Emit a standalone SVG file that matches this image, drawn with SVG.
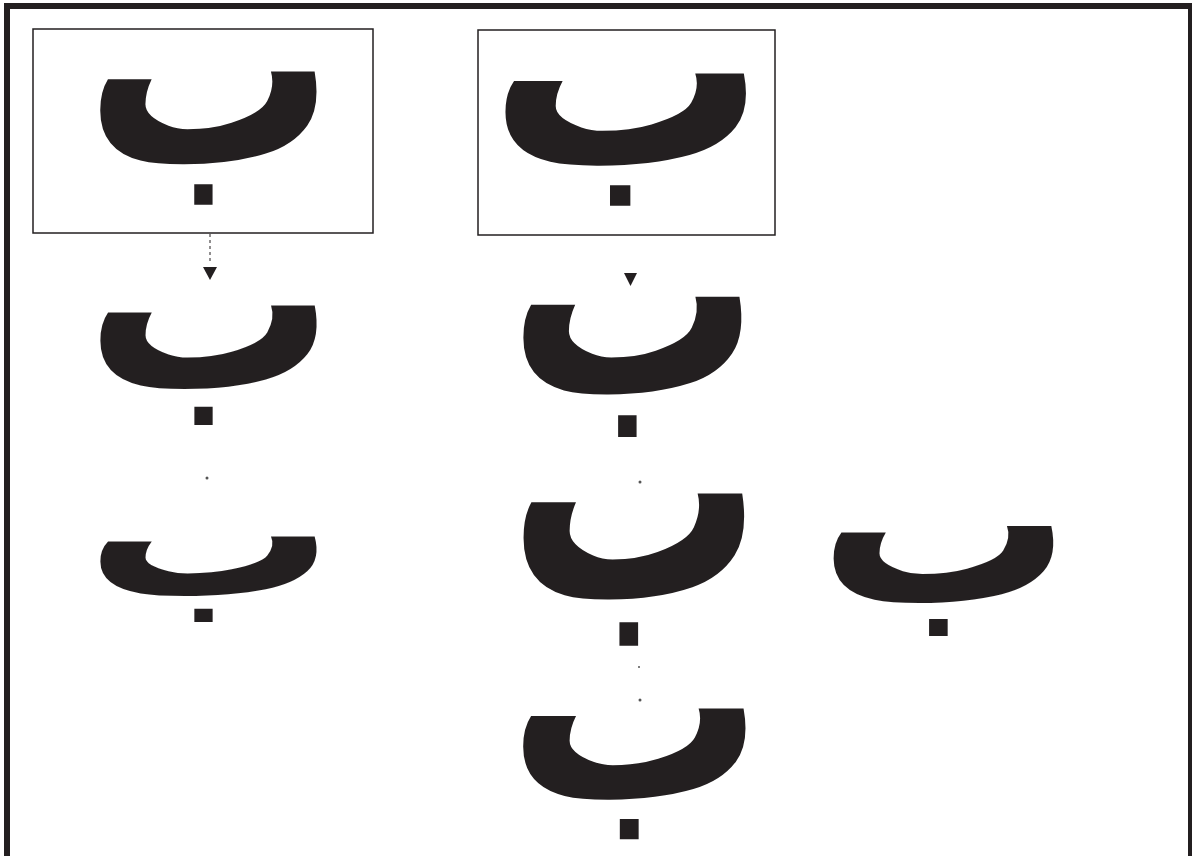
<svg xmlns="http://www.w3.org/2000/svg" width="1192" height="856" viewBox="0 0 1192 856">
<style>
.g{font-family:"DejaVu Sans",sans-serif;font-weight:bold;font-size:100px;fill:#231f20;text-anchor:middle}
.box{fill:none;stroke:#231f20;stroke-width:1.5}
.conn{stroke:#231f20;stroke-width:1;stroke-dasharray:3 3;fill:none}
.head{fill:#231f20}
.speck{fill:#555}
.frame{fill:#231f20}
</style>
<rect x="0" y="0" width="1192" height="856" fill="#fff"/>
<rect class="frame" x="4" y="3" width="1188" height="6"/>
<rect class="frame" x="4" y="3" width="6" height="853"/>
<rect class="frame" x="1188" y="3" width="4" height="853"/>
<g id="node1"><rect class="box" x="33" y="29" width="340" height="204"/><text class="g" transform="translate(210,163) scale(2.5,2.8)">ب</text></g>
<g id="node2"><text class="g" transform="translate(210,388.3) scale(2.5,2.51)">ب</text></g>
<g id="node3"><text class="g" transform="translate(210,594.8) scale(2.5,1.8)">ب</text></g>
<g id="node4"><rect class="box" x="478" y="30" width="297" height="205"/><text class="g" transform="translate(627.5,164.3) scale(2.78,2.78)">ب</text></g>
<g id="node5"><text class="g" transform="translate(634,393) scale(2.52,2.95)">ب</text></g>
<g id="node6"><text class="g" transform="translate(635.5,598) scale(2.55,3.2)">ب</text></g>
<g id="node7"><text class="g" transform="translate(636,798.3) scale(2.57,2.75)">ب</text></g>
<g id="node8"><text class="g" transform="translate(945,601.7) scale(2.54,2.31)">ب</text></g>
<g id="connectors">
<line class="conn" x1="210" y1="234" x2="210" y2="262"/>
<polygon class="head" points="203,267 217,267 210,280"/>
<polygon class="head" points="624,273 637,273 630.5,286"/>
<circle class="speck" cx="207" cy="478" r="1.5"/>
<circle class="speck" cx="640" cy="482" r="1.5"/>
<circle class="speck" cx="639" cy="667" r="1"/>
<circle class="speck" cx="640" cy="700" r="1.5"/>
</g>
</svg>
